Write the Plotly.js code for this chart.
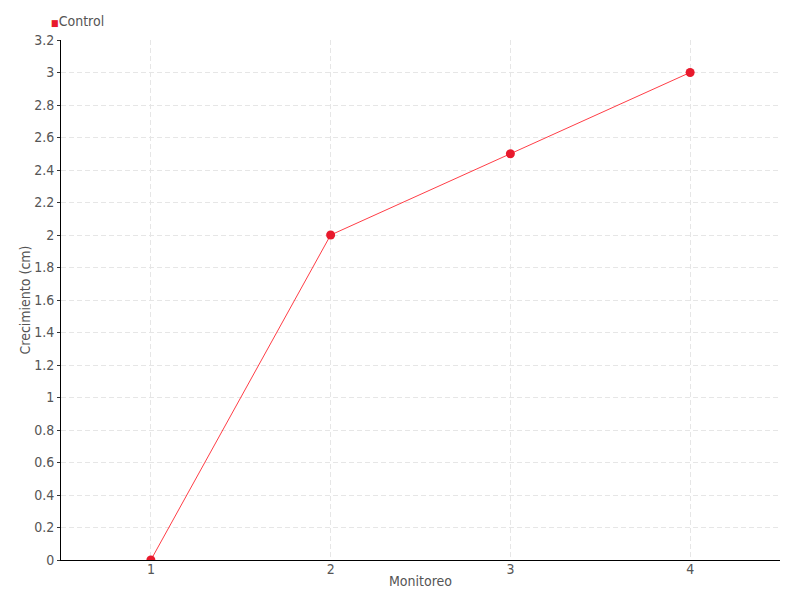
<!DOCTYPE html>
<html>
<head>
<meta charset="utf-8">
<script src="https://cdn.plot.ly/plotly-3.0.1.min.js"></script>
<style>html,body{margin:0;padding:0;background:#fff;}#chart{width:800px;height:600px;}</style>
</head>
<body>
<div id="chart"></div>
<script>
const categories = [1, 2, 3, 4];
const controlValues = [0, 2, 2.5, 3];
const seriesName = 'Control';
const yTickVals = [0, 0.2, 0.4, 0.6, 0.8, 1, 1.2, 1.4, 1.6, 1.8, 2, 2.2, 2.4, 2.6, 2.8, 3, 3.2];

const font = {family: '"DejaVu Sans Condensed", "Liberation Sans Narrow", sans-serif', size: 14, color: '#555'};
const red = '#e8192c';

const traces = [{
  x: categories,
  y: controlValues,
  type: 'scatter',
  mode: 'lines+markers',
  name: seriesName,
  showlegend: false,
  line: {color: 'rgba(255,40,50,0.9)', width: 1},
  marker: {color: red, size: 9, symbol: 'circle'}
}];

const layout = {
  width: 800, height: 600,
  margin: {l: 61, r: 20, t: 40, b: 40},
  paper_bgcolor: '#fff', plot_bgcolor: '#fff',
  font: font,
  showlegend: false,
  annotations: [{
    xref: 'paper', yref: 'paper',
    x: -0.017, y: 1.0365,
    xanchor: 'left', yanchor: 'middle',
    showarrow: false,
    text: '<span style="color:' + red + ';font-size:9px">■</span>' + seriesName,
    font: font
  }],
  xaxis: {
    title: {text: 'Monitoreo', font: font, standoff: 0},
    range: [0.5, 4.5],
    tickvals: categories,
    ticktext: categories.map(String),
    showgrid: true, gridcolor: '#e6e6e6', griddash: '5px,3px', gridwidth: 1,
    showline: true, linecolor: '#000', linewidth: 1,
    zeroline: false,
    ticks: '', ticklen: 0,
    ticklabelstandoff: -4,
    tickfont: font
  },
  yaxis: {
    title: {text: 'Crecimiento (cm)', font: font, standoff: 0},
    range: [0, 3.2],
    tickvals: yTickVals,
    ticktext: yTickVals.map(v => String(v)),
    showgrid: true, gridcolor: '#e6e6e6', griddash: '5px,3px', gridwidth: 1,
    showline: true, linecolor: '#000', linewidth: 1,
    zeroline: false,
    ticks: 'outside', ticklen: 3, tickcolor: '#333',
    tickfont: font
  }
};

Plotly.newPlot('chart', traces, layout, {displayModeBar: false, staticPlot: true});
</script>
</body>
</html>
